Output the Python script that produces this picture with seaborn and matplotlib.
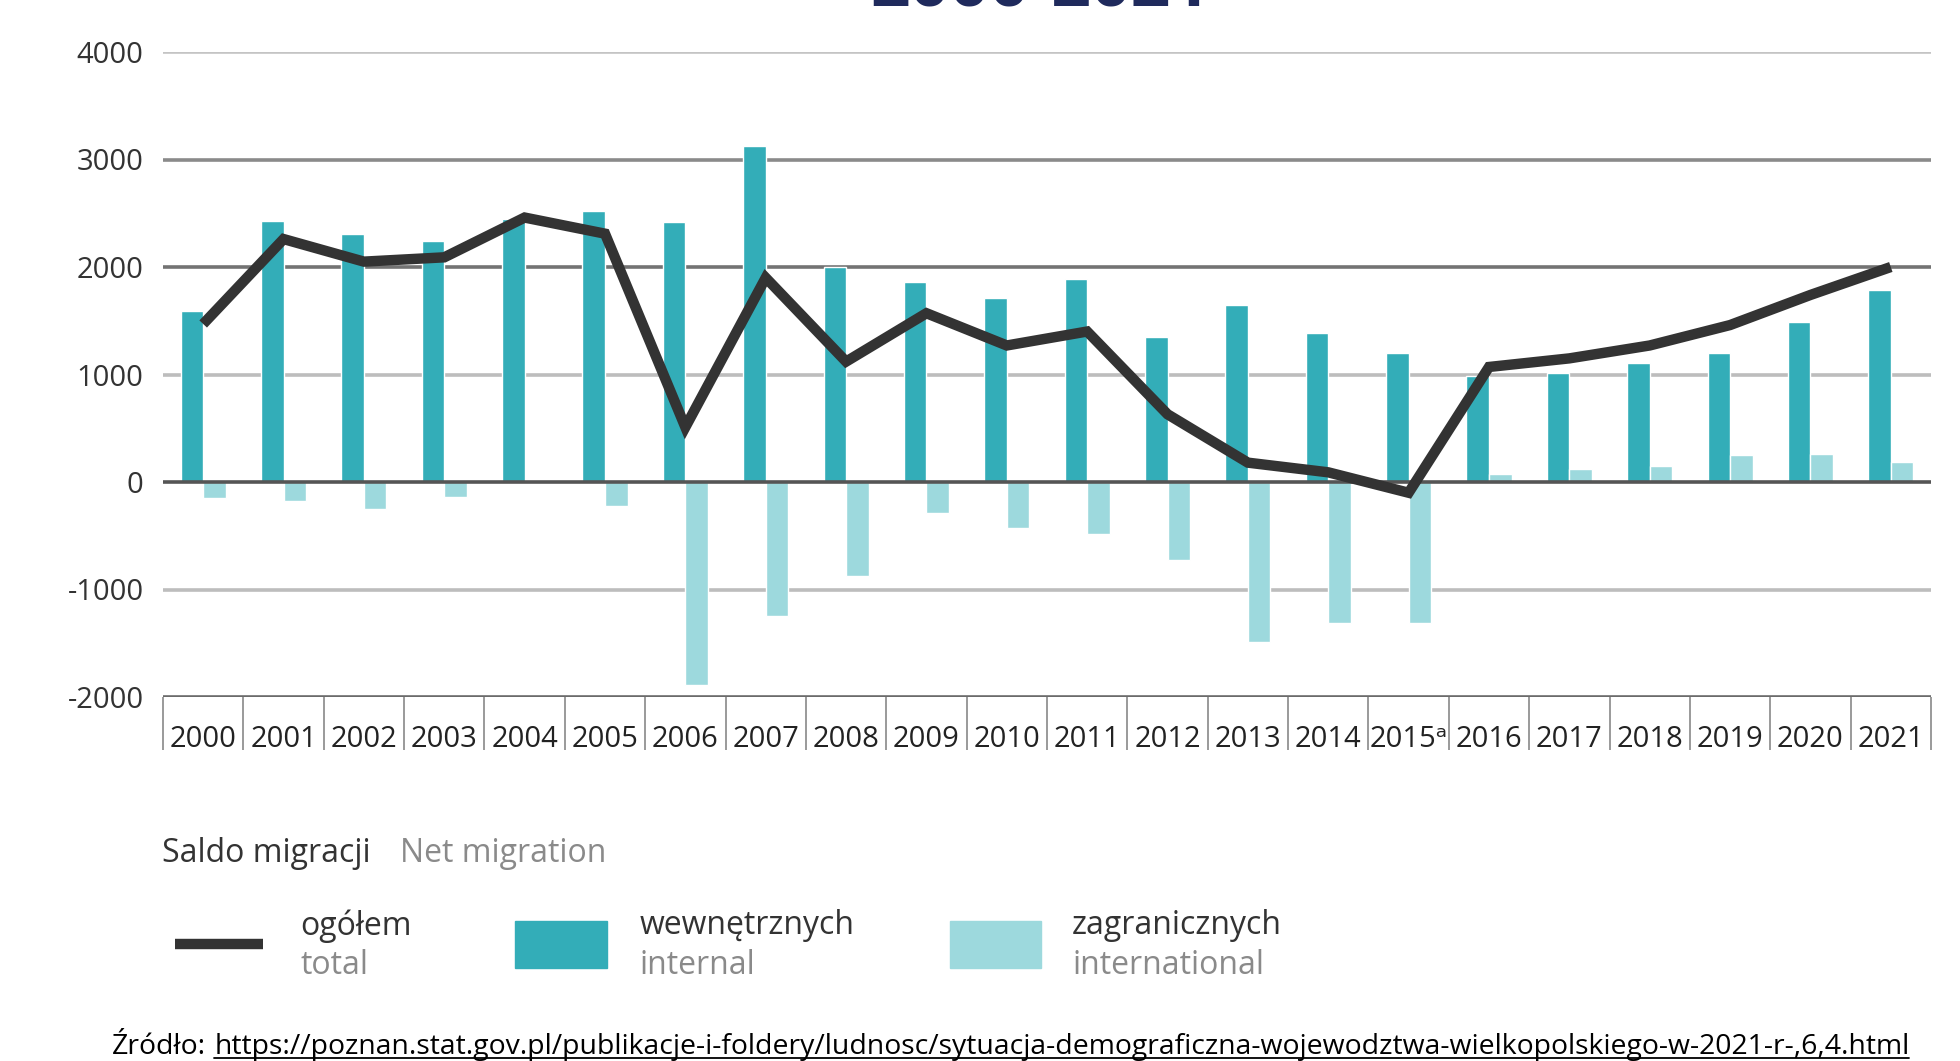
#!/usr/bin/env python3
"""
Net migration (Wielkopolskie), 2000-2021: internal / international bars + total line.
"""

import numpy as np
import pandas as pd
import seaborn as sns
import matplotlib.pyplot as plt
from matplotlib.lines import Line2D
from matplotlib.patches import Rectangle

# data
years = ['2000', '2001', '2002', '2003', '2004', '2005', '2006', '2007', '2008', '2009', '2010',
         '2011', '2012', '2013', '2014', '2015', '2016', '2017', '2018', '2019', '2020', '2021']
tick_labels = ['2000', '2001', '2002', '2003', '2004', '2005', '2006', '2007', '2008', '2009', '2010',
               '2011', '2012', '2013', '2014', '2015\u1d43', '2016', '2017', '2018', '2019', '2020', '2021']
internal = [1590, 2430, 2310, 2240, 2450, 2520, 2420, 3130, 2000, 1860, 1710,
            1890, 1350, 1650, 1390, 1200, 990, 1010, 1110, 1200, 1490, 1790]
international = [-150, -180, -250, -140, 10, -220, -1890, -1250, -870, -290, -430,
                 -480, -730, -1490, -1310, -1310, 70, 120, 150, 250, 260, 190]
total = [1470, 2260, 2050, 2090, 2460, 2310, 510, 1900, 1120, 1570, 1270,
         1400, 630, 180, 90, -100, 1070, 1150, 1270, 1460, 1740, 2000]
y_ticks = [-2000, -1000, 0, 1000, 2000, 3000, 4000]

C_INT = '#33adb8'
C_EXT = '#9dd9dd'
C_TOT = '#333333'

sns.set_theme(style='white')
plt.rcParams['font.family'] = ['Open Sans', 'DejaVu Sans']

df_bars = pd.DataFrame({
    'year': years * 2,
    'value': internal + international,
    'type': ['wewnętrznych'] * len(years) + ['zagranicznych'] * len(years),
})
df_line = pd.DataFrame({'pos': np.arange(len(years)), 'total': total})

W, H = 1960, 1061
fig = plt.figure(figsize=(W / 100, H / 100), dpi=100)
ax = fig.add_axes([163 / W, 1 - 697 / H, (1931 - 163) / W, (697 - 52) / H])

# horizontal grid lines, each with its own shade as in the original
grid_colors = {-2000: '#6b6b6b', -1000: '#bdbdbd', 0: '#555555', 1000: '#bdbdbd',
               2000: '#737373', 3000: '#8a8a8a', 4000: '#c4c4c4'}
for v in y_ticks:
    ax.axhline(v, color=grid_colors[v], lw=2.6, zorder=3 if v == 0 else 0)

sns.barplot(data=df_bars, x='year', y='value', hue='type', order=years,
            palette={'wewnętrznych': C_INT, 'zagranicznych': C_EXT},
            width=0.56, saturation=1, errorbar=None, legend=False, ax=ax, zorder=2)

sns.lineplot(data=df_line, x='pos', y='total', color=C_TOT, lw=7.5, ax=ax, zorder=4,
             solid_joinstyle='miter', solid_capstyle='butt')

ax.set_xlim(-0.5, len(years) - 0.5)
ax.set_ylim(-2000, 4000)
ax.set_xlabel('')
ax.set_ylabel('')
for s in ax.spines.values():
    s.set_visible(False)

ax.set_yticks(y_ticks)
ax.set_yticklabels([str(v) for v in y_ticks])
ax.tick_params(axis='y', length=0, pad=14, labelsize=21, labelcolor='#333333')

# year "boxes": minor ticks at the category borders act as separators
ax.set_xticks(np.arange(len(years)))
ax.set_xticklabels(tick_labels)
ax.set_xticks(np.arange(len(years) + 1) - 0.5, minor=True)
ax.tick_params(axis='x', which='major', bottom=True, length=0, pad=20, labelsize=21,
               labelcolor='#222222')
ax.tick_params(axis='x', which='minor', bottom=True, length=38, width=1.4, color='#9a9a9a',
               direction='out')

# title (mostly cut off at the top edge in the original)
fig.text(1040 / W, 1 - 5 / H, '2000-2021', ha='center', va='baseline',
         fontsize=50, fontweight='bold', color='#1f2a5c')

# legend, drawn by hand
fig.text(162 / W, 1 - 854 / H, 'Saldo migracji', ha='left', va='center', fontsize=23, color='#333333')
fig.text(400 / W, 1 - 854 / H, 'Net migration', ha='left', va='center', fontsize=23, color='#8a8a8a')

fig.add_artist(Line2D([175 / W, 263 / W], [1 - 944 / H] * 2, lw=7.5, color=C_TOT,
                      solid_capstyle='butt', transform=fig.transFigure))
fig.add_artist(Rectangle((515 / W, 1 - 968 / H), 92 / W, 47 / H, color=C_INT,
                         transform=fig.transFigure))
fig.add_artist(Rectangle((950 / W, 1 - 968 / H), 91 / W, 47 / H, color=C_EXT,
                         transform=fig.transFigure))

for x, pl, en in [(300, 'ogółem', 'total'), (640, 'wewnętrznych', 'internal'),
                  (1072, 'zagranicznych', 'international')]:
    fig.text(x / W, 1 - 926 / H, pl, ha='left', va='center', fontsize=23, color='#333333')
    fig.text(x / W, 1 - 966 / H, en, ha='left', va='center', fontsize=23, color='#8a8a8a')

# source line with underlined link
url = ('https://poznan.stat.gov.pl/publikacje-i-foldery/ludnosc/'
       'sytuacja-demograficzna-wojewodztwa-wielkopolskiego-w-2021-r-,6,4.html')
t1 = fig.text(112 / W, 1 - 1054 / H, 'Źródło:', ha='left', va='baseline', fontsize=20.4, color='black')
fig.canvas.draw()
r = fig.canvas.get_renderer()
e1 = t1.get_window_extent(r)
t2 = fig.text((e1.x1 + 8) / W, 1 - 1054 / H, url, ha='left', va='baseline', fontsize=20.4, color='black')
fig.canvas.draw()
e2 = t2.get_window_extent(r)
fig.add_artist(Line2D([e2.x0 / W, e2.x1 / W], [(1 - 1057.5 / H)] * 2, lw=1.3, color='black',
                      transform=fig.transFigure))

fig.savefig('out.png', dpi=100)
